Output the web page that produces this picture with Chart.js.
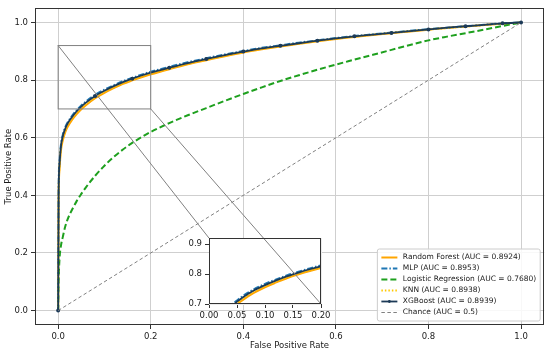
<!DOCTYPE html>
<html>
<head>
<meta charset="utf-8">
<script src="https://cdn.jsdelivr.net/npm/chart.js@4.4.1/dist/chart.umd.min.js"></script>
<style>
  html, body { margin: 0; padding: 0; background: #fff; }
  #wrap { position: relative; width: 550px; height: 353px; }
  #main { position: absolute; left: 0; top: 0; }
  #inset { position: absolute; left: 180px; top: 230px; }
</style>
</head>
<body>
<div id="wrap">
  <canvas id="main" width="550" height="353"></canvas>
  <canvas id="inset" width="160" height="95"></canvas>
</div>
<script>
// false positive rate grid shared by the model curves
const fpr = [0, 0.001, 0.003, 0.006, 0.01, 0.015, 0.02, 0.03, 0.04, 0.05, 0.06, 0.08, 0.10, 0.12, 0.14, 0.16, 0.18, 0.20,
  0.24, 0.28, 0.32, 0.36, 0.40, 0.44, 0.48, 0.52, 0.56, 0.60, 0.64, 0.68, 0.72, 0.76, 0.80, 0.84, 0.88, 0.92, 0.96, 1.0];

// true positive rates
const tprRF  = [0, 0.38, 0.49, 0.555, 0.59, 0.618, 0.636, 0.662, 0.682, 0.699, 0.713, 0.737, 0.756, 0.772, 0.787, 0.799, 0.810, 0.820,
  0.838, 0.855, 0.869, 0.883, 0.896, 0.907, 0.917, 0.926, 0.935, 0.943, 0.950, 0.957, 0.963, 0.969, 0.975, 0.981, 0.986, 0.991, 0.996, 1.0];
const tprMLP = [0, 0.41, 0.52, 0.575, 0.61, 0.635, 0.652, 0.676, 0.696, 0.712, 0.726, 0.749, 0.767, 0.782, 0.796, 0.808, 0.819, 0.829,
  0.846, 0.862, 0.876, 0.889, 0.901, 0.912, 0.921, 0.930, 0.938, 0.946, 0.953, 0.959, 0.965, 0.971, 0.977, 0.982, 0.987, 0.992, 0.997, 1.0];
const tprLR  = [0, 0.10, 0.18, 0.225, 0.255, 0.29, 0.315, 0.35, 0.38, 0.405, 0.428, 0.468, 0.503, 0.533, 0.559, 0.582, 0.602, 0.620,
  0.651, 0.678, 0.703, 0.728, 0.752, 0.775, 0.797, 0.817, 0.836, 0.854, 0.871, 0.888, 0.905, 0.922, 0.938, 0.951, 0.963, 0.975, 0.988, 1.0];
const tprKNN = [0, 0.39, 0.50, 0.565, 0.60, 0.626, 0.644, 0.668, 0.688, 0.704, 0.718, 0.742, 0.760, 0.776, 0.790, 0.802, 0.813, 0.823,
  0.841, 0.857, 0.871, 0.885, 0.898, 0.909, 0.918, 0.927, 0.936, 0.944, 0.951, 0.958, 0.964, 0.970, 0.976, 0.981, 0.986, 0.991, 0.996, 1.0];
const tprXGB = [0, 0.40, 0.51, 0.57, 0.605, 0.63, 0.648, 0.672, 0.692, 0.708, 0.722, 0.745, 0.763, 0.779, 0.793, 0.805, 0.816, 0.826,
  0.843, 0.859, 0.873, 0.887, 0.899, 0.910, 0.919, 0.928, 0.937, 0.945, 0.952, 0.958, 0.964, 0.970, 0.976, 0.982, 0.987, 0.992, 0.997, 1.0];
const xgbMarks = [0, 0.08, 0.16, 0.24, 0.32, 0.40, 0.48, 0.56, 0.64, 0.72, 0.80, 0.88, 0.96, 1.0];

const chanceX = [0, 1];
const chanceY = [0, 1];

const labels = {
  rf: 'Random Forest (AUC = 0.8924)',
  mlp: 'MLP (AUC = 0.8953)',
  lr: 'Logistic Regression (AUC = 0.7680)',
  knn: 'KNN (AUC = 0.8938)',
  xgb: 'XGBoost (AUC = 0.8939)',
  chance: 'Chance (AUC = 0.5)'
};

const xTicks = [0, 0.2, 0.4, 0.6, 0.8, 1.0];
const yTicks = [0, 0.2, 0.4, 0.6, 0.8, 1.0];
const insetXTicks = [0, 0.05, 0.10, 0.15, 0.20];
const insetYTicks = [0.7, 0.8, 0.9];
const zoomX = [0, 0.2];
const zoomY = [0.7, 0.92];

Chart.defaults.font.family = "'DejaVu Sans', sans-serif";
Chart.defaults.font.size = 8.5;
Chart.defaults.color = '#1a1a1a';

const pts = (xs, ys) => xs.map((x, i) => ({ x: x, y: ys[i] }));

function makeDatasets(withMarks) {
  return [
    { label: labels.rf, data: pts(fpr, tprRF), borderColor: '#ffa500', borderWidth: 2, order: 6 },
    { label: labels.mlp, data: pts(fpr, tprMLP), borderColor: '#1f77b4', borderWidth: 2, borderDash: [6, 2, 1.5, 2], order: 5 },
    { label: labels.lr, data: pts(fpr, tprLR), borderColor: '#1ea01e', borderWidth: 2, borderDash: [6, 3], order: 4 },
    { label: labels.knn, data: pts(fpr, tprKNN), borderColor: '#ffc800', borderWidth: 2, borderDash: [1.5, 2], order: 3 },
    { label: labels.xgb, data: pts(fpr, tprXGB), borderColor: '#1c3a57', backgroundColor: '#1c3a57', borderWidth: 1.8, order: 2,
      pointRadius: ctx => (withMarks && ctx.raw && xgbMarks.includes(ctx.raw.x)) ? 1.1 : 0 },
    { label: labels.chance, data: pts(chanceX, chanceY), borderColor: '#808080', borderWidth: 1, borderDash: [3.5, 2.5], order: 1 }
  ].map(d => Object.assign({ cubicInterpolationMode: 'monotone', pointRadius: 0, fill: false }, d));
}

let mainChart = null;
let insetChart = null;

// zoom rectangle corners joined to the inset plot area corners, in main canvas pixels
function connectorLines(main, inset) {
  const c = inset.canvas;
  const a = inset.chartArea;
  const x = main.scales.x, y = main.scales.y;
  return [
    [x.getPixelForValue(zoomX[0]), y.getPixelForValue(zoomY[1]), c.offsetLeft + a.left, c.offsetTop + a.top],
    [x.getPixelForValue(zoomX[1]), y.getPixelForValue(zoomY[0]), c.offsetLeft + a.right, c.offsetTop + a.bottom]
  ];
}

const frame = {
  id: 'frame',
  beforeDatasetsDraw(chart) {
    if (chart.config.options.whiteArea) {
      const a = chart.chartArea, ctx = chart.ctx;
      ctx.save();
      ctx.fillStyle = '#fff';
      ctx.fillRect(a.left, a.top, a.right - a.left, a.bottom - a.top);
      ctx.restore();
    }
  },
  afterDraw(chart) {
    const a = chart.chartArea, ctx = chart.ctx;
    ctx.save();
    ctx.strokeStyle = '#333';
    ctx.lineWidth = 1;
    ctx.strokeRect(Math.round(a.left) + 0.5, Math.round(a.top) + 0.5,
      Math.round(a.right - a.left) - 1, Math.round(a.bottom - a.top) - 1);
    ctx.restore();
  }
};

const zoomMarks = {
  id: 'zoomMarks',
  afterDatasetsDraw(chart) {
    const ctx = chart.ctx;
    const x = chart.scales.x, y = chart.scales.y;
    ctx.save();
    ctx.strokeStyle = '#808080';
    ctx.lineWidth = 1;
    const x0 = x.getPixelForValue(zoomX[0]), x1 = x.getPixelForValue(zoomX[1]);
    const y0 = y.getPixelForValue(zoomY[0]), y1 = y.getPixelForValue(zoomY[1]);
    ctx.strokeRect(x0, y1, x1 - x0, y0 - y1);
    if (insetChart) {
      connectorLines(chart, insetChart).forEach(l => {
        ctx.beginPath();
        ctx.moveTo(l[0], l[1]);
        ctx.lineTo(l[2], l[3]);
        ctx.stroke();
      });
    }
    ctx.restore();
  }
};

const insetConnectors = {
  id: 'insetConnectors',
  afterDatasetsDraw(chart) {
    if (!mainChart) return;
    const c = chart.canvas;
    const a = chart.chartArea, ctx = chart.ctx;
    ctx.save();
    ctx.beginPath();
    ctx.rect(a.left, a.top, a.right - a.left, a.bottom - a.top);
    ctx.clip();
    ctx.strokeStyle = '#808080';
    ctx.lineWidth = 1;
    connectorLines(mainChart, chart).forEach(l => {
      ctx.beginPath();
      ctx.moveTo(l[0] - c.offsetLeft, l[1] - c.offsetTop);
      ctx.lineTo(l[2] - c.offsetLeft, l[3] - c.offsetTop);
      ctx.stroke();
    });
    ctx.restore();
  }
};

const legendBox = {
  id: 'legendBox',
  afterDraw(chart) {
    const ctx = chart.ctx, a = chart.chartArea;
    const items = chart.data.datasets;
    ctx.save();
    ctx.font = "7.5px 'DejaVu Sans', sans-serif";
    const rowH = 11, lineW = 16, gap = 5.5, padX = 4, padY = 3;
    const textW = Math.max(...items.map(d => ctx.measureText(d.label).width));
    const w = padX + lineW + gap + textW + padX;
    const h = padY * 2 + rowH * items.length;
    const bx = a.right - 4 - w, by = a.bottom - 4 - h;
    ctx.globalAlpha = 0.85;
    ctx.fillStyle = '#fff';
    ctx.beginPath();
    ctx.roundRect(bx, by, w, h, 2);
    ctx.fill();
    ctx.globalAlpha = 1;
    ctx.strokeStyle = '#cccccc';
    ctx.lineWidth = 1;
    ctx.stroke();
    items.forEach((d, i) => {
      const cy = by + padY + rowH * (i + 0.5);
      ctx.strokeStyle = d.borderColor;
      ctx.lineWidth = d.borderWidth;
      ctx.setLineDash(d.borderDash || []);
      ctx.beginPath();
      ctx.moveTo(bx + padX, cy);
      ctx.lineTo(bx + padX + lineW, cy);
      ctx.stroke();
      ctx.setLineDash([]);
      if (d.label === labels.xgb) {
        ctx.fillStyle = d.borderColor;
        ctx.beginPath();
        ctx.arc(bx + padX + lineW / 2, cy, 1.4, 0, Math.PI * 2);
        ctx.fill();
      }
      ctx.fillStyle = '#1a1a1a';
      ctx.textBaseline = 'middle';
      ctx.textAlign = 'left';
      ctx.fillText(d.label, bx + padX + lineW + gap, cy);
    });
    ctx.restore();
  }
};

function axis(min, max, ticks, digits, fit, title) {
  return {
    type: 'linear', min: min, max: max,
    afterBuildTicks: s => { s.ticks = ticks.map(v => ({ value: v })); },
    afterFit: fit,
    ticks: { callback: v => Number(v).toFixed(digits), padding: 3, maxRotation: 0, autoSkip: false },
    grid: { color: title ? '#cfcfcf' : '#ebebeb', lineWidth: 1, tickLength: 4, tickColor: '#333' },
    border: { display: false },
    title: title || { display: false }
  };
}

mainChart = new Chart(document.getElementById('main'), {
  type: 'line',
  data: { datasets: makeDatasets(true) },
  options: {
    responsive: false,
    animation: false,
    events: [],
    layout: { padding: { top: 4, right: 5, left: 0, bottom: 0 } },
    plugins: { legend: { display: false }, tooltip: { enabled: false } },
    scales: {
      x: axis(-0.05, 1.05, xTicks, 1, s => { s.height = 28; },
        { display: true, text: 'False Positive Rate', padding: { top: 0, bottom: 2 } }),
      y: axis(-0.05, 1.05, yTicks, 1, s => { s.width = 35; },
        { display: true, text: 'True Positive Rate', padding: { top: 4, bottom: 0 } })
    }
  },
  plugins: [frame, zoomMarks, legendBox]
});

insetChart = new Chart(document.getElementById('inset'), {
  type: 'line',
  data: { datasets: makeDatasets(false).filter(d => d.label !== labels.chance) },
  options: {
    responsive: false,
    animation: false,
    events: [],
    whiteArea: true,
    layout: { padding: { top: 4, right: 19, left: 0, bottom: 0 } },
    plugins: { legend: { display: false }, tooltip: { enabled: false } },
    scales: {
      x: axis(zoomX[0], zoomX[1], insetXTicks, 2, s => { s.height = 21; }),
      y: axis(zoomY[0], zoomY[1], insetYTicks, 1, s => { s.width = 29; })
    }
  },
  plugins: [frame, insetConnectors]
});

mainChart.draw();
insetChart.draw();
</script>
</body>
</html>
